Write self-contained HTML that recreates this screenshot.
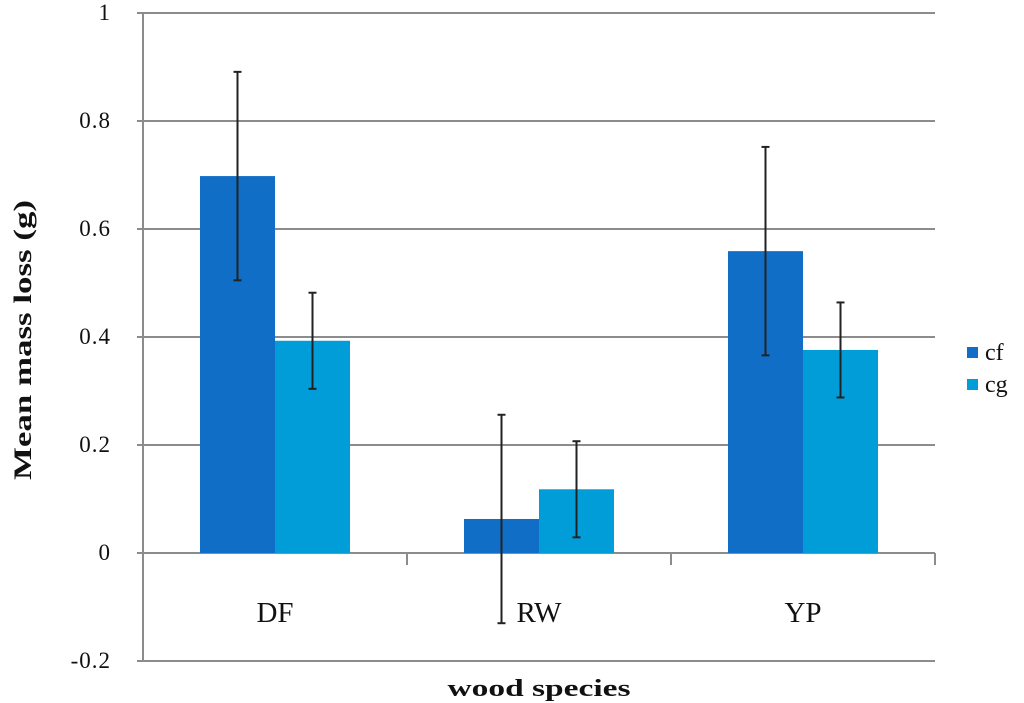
<!DOCTYPE html>
<html><head><meta charset="utf-8"><style>
body{margin:0;background:#fff;}
svg{display:block;font-family:"Liberation Serif",serif;}
</style></head><body>
<svg id="chart" width="1024" height="703"></svg>
<script>
const categories=["DF","RW","YP"];
const seriesNames=["cf","cg"];
const cfValues=[0.698,0.063,0.559];
const cgValues=[0.393,0.118,0.376];
const cfErr=[0.193,0.193,0.193];
const cgErr=[0.089,0.089,0.088];
const yTicks=[-0.2,0,0.2,0.4,0.6,0.8,1];
const yTickLabels=["-0.2","0","0.2","0.4","0.6","0.8","1"];
const colors=["#106EC7","#009DD9"];
const NS="http://www.w3.org/2000/svg";
const svg=document.getElementById('chart');
const X0=143,X1=935,Y0=661,Y1=13,vmin=-0.2,vmax=1;
const y=v=>Y0-(v-vmin)/(vmax-vmin)*(Y0-Y1);
const catW=(X1-X0)/categories.length;
const barW=75;
const x=(i,s)=>X0+catW*i+catW/2-barW+s*barW;
function el(t,a,txt){const e=document.createElementNS(NS,t);for(const k in a)e.setAttribute(k,a[k]);if(txt!==undefined)e.textContent=txt;svg.appendChild(e);return e;}
yTicks.forEach((v,i)=>{
  const g=el('line',{x1:X0-6,x2:X1,y1:y(v),y2:y(v),stroke:'#8c8c8c','stroke-width':2});
  
  
  const t=el('text',{x:111,y:y(v)+7,'text-anchor':'end','font-size':23,fill:'#111','letter-spacing':'1'},yTickLabels[i]);
  
  
});
const ax=el('line',{x1:X0,x2:X0,y1:Y1,y2:Y0,stroke:'#8c8c8c','stroke-width':2});


for(let i=0;i<=categories.length;i++){
  const tk=el('line',{x1:X0+catW*i,x2:X0+catW*i,y1:y(0),y2:y(0)+12,stroke:'#8c8c8c','stroke-width':2});
  
  
}
const series=[[cfValues,cfErr],[cgValues,cgErr]];
series.forEach(([vals,errs],s)=>{
  vals.forEach((v,i)=>{
    const top=Math.min(y(v),y(0)),h=Math.abs(y(v)-y(0));
    const r=el('rect',{x:x(i,s),y:top,width:barW,height:h,fill:colors[s]});
    
    
  });
});
series.forEach(([vals,errs],s)=>{
  vals.forEach((v,i)=>{
    const cx=x(i,s)+barW/2,a=y(v+errs[i]),b=y(v-errs[i]);
    const g=document.createElementNS(NS,'g');
    
    
    g.innerHTML=`<line x1="${cx}" x2="${cx}" y1="${a}" y2="${b}" stroke="#222" stroke-width="2"/><line x1="${cx-4}" x2="${cx+4}" y1="${a}" y2="${a}" stroke="#222" stroke-width="2"/><line x1="${cx-4}" x2="${cx+4}" y1="${b}" y2="${b}" stroke="#222" stroke-width="2"/>`;
    svg.appendChild(g);
  });
});
categories.forEach((c,i)=>{
  const t=el('text',{x:X0+catW*(i+0.5),y:622,'text-anchor':'middle','font-size':29,fill:'#111'},c);
  
  
});
seriesNames.forEach((n,s)=>{
  const ly=353+s*32;
  const r=el('rect',{x:967,y:ly-6,width:11,height:11,fill:colors[s]});
  
  
  const t=el('text',{x:985,y:ly+7,'font-size':24,fill:'#111'},n);
  
  
});
const yt=el('text',{x:0,y:0,transform:'translate(31,340) rotate(-90)','text-anchor':'middle','font-size':25,'font-weight':'bold',fill:'#111',textLength:280,lengthAdjust:'spacingAndGlyphs'},'Mean mass loss (g)');


const xt=el('text',{x:539,y:696,'text-anchor':'middle','font-size':24,'font-weight':'bold',fill:'#111',textLength:183,lengthAdjust:'spacingAndGlyphs'},'wood species');


</script>
</body></html>
